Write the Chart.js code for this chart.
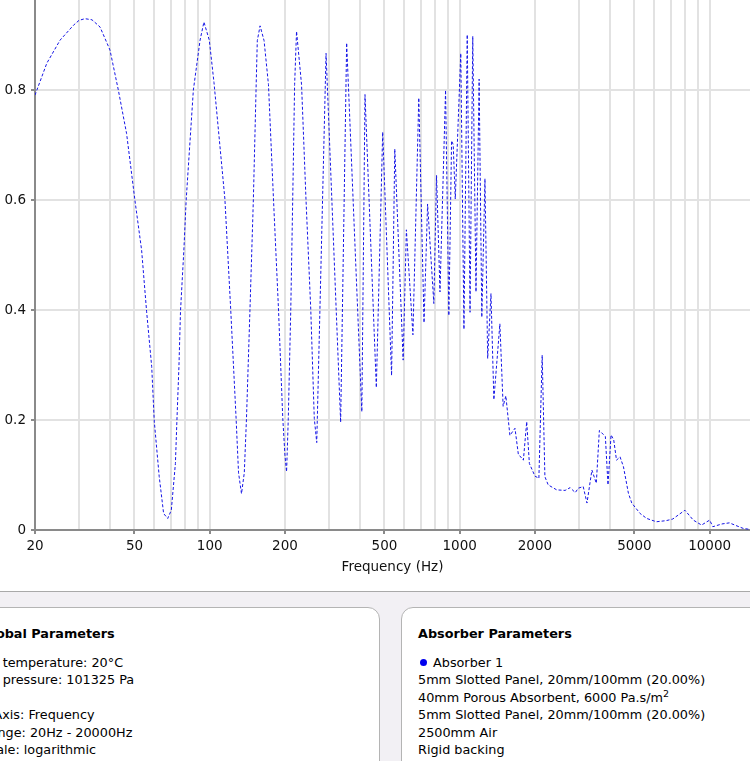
<!DOCTYPE html>
<html>
<head>
<meta charset="utf-8">
<script src="https://cdn.jsdelivr.net/npm/chart.js@4/dist/chart.umd.min.js"></script>
<style>
  html, body { margin: 0; padding: 0; background: #fff; overflow: hidden; }
  body { width: 750px; height: 761px; position: relative; font-family: "DejaVu Sans", Verdana, sans-serif; color: #000; }
  #chartBox { position: absolute; left: 0; top: 0; width: 750px; height: 591px; }
  #params { position: absolute; left: 0; top: 591px; width: 750px; height: 170px; background: #f2f0f4; border-top: 1px solid #a9a9a9; }
  .panel { position: absolute; top: 15px; width: 382px; height: 200px; background: #fff; border: 1px solid #b4b4b4; border-radius: 12px; padding: 17px 16px 0 16px; font-size: 12.8px; }
  .panel h3 { margin: 0 0 12px 0; font-size: 12.8px; line-height: 17px; font-weight: bold; }
  .panel .line { line-height: 17.4px; white-space: nowrap; }
  .dot { display: inline-block; width: 7px; height: 7px; border-radius: 50%; background: #0000ee; margin: 0 6px 1px 2px; }
</style>
</head>
<body>
<div id="chartBox"><canvas id="absorptionChart"></canvas></div>

<div id="params">
  <div class="panel" style="left:-36px">
    <h3>Global Parameters</h3>
    <div class="line">Air temperature: 20°C</div>
    <div class="line">Air pressure: 101325 Pa</div>
    <div class="line">&nbsp;</div>
    <div class="line">X-Axis: Frequency</div>
    <div class="line">Range: 20Hz - 20000Hz</div>
    <div class="line">Scale: logarithmic</div>
    <div class="line">Resolution: medium</div>
  </div>
  <div class="panel" style="left:401px">
    <h3>Absorber Parameters</h3>
    <div class="line"><span class="dot"></span>Absorber 1</div>
    <div class="line">5mm Slotted Panel, 20mm/100mm (20.00%)</div>
    <div class="line">40mm Porous Absorbent, 6000 Pa.s/m<sup style="font-size:9.5px;line-height:0">2</sup></div>
    <div class="line">5mm Slotted Panel, 20mm/100mm (20.00%)</div>
    <div class="line">2500mm Air</div>
    <div class="line">Rigid backing</div>
  </div>
</div>

<script>
// 주파수 (Hz)
const freqHz = [
    20, 22.3, 25.2, 28.5, 30.0, 31.7, 33.8, 36.4, 39.9, 43.1, 46.5, 50.2,
    53.4, 55.9, 58.6, 60.0, 62.8, 65.4, 67.9, 70.2, 72.9, 73.9,
    75.3, 76.4, 78.8, 80.5, 86.0, 91.5, 94.8, 99.6, 104, 115,
    121.3, 127.5, 130.4, 134, 137.5, 140.3, 144.9, 149.5, 153.4, 155,
    159, 165, 171.8, 179.9, 188.4, 196, 200, 203, 206.2, 211,
    214.8, 218.6, 222.5, 233, 242.7, 253.6, 262, 268, 292, 334,
    353, 406, 418, 464, 492, 534, 550, 594, 612, 650,
    686, 720, 744, 788, 808, 834, 878, 905, 928, 942,
    960, 1010, 1040, 1072, 1100, 1128, 1162, 1196, 1226, 1262,
    1294, 1334, 1370, 1448, 1492, 1530, 1588, 1664, 1716, 1798,
    1854, 1900, 2000, 2074, 2138, 2192, 2260, 2444, 2640, 2766,
    2900, 2980, 3120, 3230, 3380, 3520, 3620, 3826, 3920, 4032,
    4132, 4240, 4380, 4520, 4730, 4880, 5270, 5600, 6120, 6700,
    7120, 7960, 8600, 9280, 10000, 10300, 11200, 12000, 12600, 13600,
    14500
]

// 흡음률
const absorption = [
    0.791, 0.849, 0.891, 0.918, 0.927, 0.930, 0.928, 0.915, 0.873, 0.800, 0.721, 0.600,
    0.509, 0.398, 0.297, 0.198, 0.097, 0.030, 0.021, 0.036, 0.121, 0.198,
    0.297, 0.398, 0.509, 0.600, 0.800, 0.891, 0.924, 0.891, 0.814, 0.602,
    0.402, 0.203, 0.104, 0.066, 0.104, 0.203, 0.402, 0.602, 0.810, 0.890,
    0.917, 0.890, 0.810, 0.602, 0.402, 0.203, 0.135, 0.106, 0.203, 0.402,
    0.602, 0.810, 0.907, 0.810, 0.602, 0.402, 0.203, 0.159, 0.867, 0.196,
    0.886, 0.215, 0.792, 0.259, 0.724, 0.281, 0.693, 0.309, 0.546, 0.355,
    0.786, 0.377, 0.593, 0.412, 0.645, 0.433, 0.800, 0.390, 0.708, 0.701,
    0.602, 0.867, 0.365, 0.901, 0.396, 0.898, 0.433, 0.820, 0.387, 0.639,
    0.312, 0.430, 0.237, 0.375, 0.225, 0.244, 0.172, 0.185, 0.138, 0.127,
    0.197, 0.121, 0.098, 0.094, 0.318, 0.097, 0.082, 0.073, 0.072, 0.077,
    0.068, 0.076, 0.079, 0.049, 0.109, 0.085, 0.181, 0.170, 0.082, 0.173,
    0.164, 0.127, 0.133, 0.115, 0.067, 0.049, 0.030, 0.021, 0.015, 0.017,
    0.020, 0.036, 0.018, 0.009, 0.018, 0.006, 0.011, 0.013, 0.009, 0.003,
    0.001
]

// 눈금
const gridFreqs = [
    20, 30, 40, 50, 60, 70, 80, 90,
    100, 200, 300, 400, 500, 600, 700, 800, 900,
    1000, 2000, 3000, 4000, 5000, 6000, 7000, 8000, 9000,
    10000
]
const labelFreqs = [20, 50, 100, 200, 500, 1000, 2000, 5000, 10000]
const yTicks = [0, 0.2, 0.4, 0.6, 0.8]

const axisColor = '#8a8a8a'
const gridColor = '#e2e2e2'
const tickFont = { family: 'DejaVu Sans', size: 13.5 }

function buildPoints() {
    return freqHz.map((f, i) => ({ x: f, y: absorption[i] }))
}

function drawChart() {
    const context = document.getElementById('absorptionChart')
    const config = {
        type: 'line',
        data: {
            datasets: [{
                label: 'Absorber 1',
                data: buildPoints(),
                borderColor: '#1515e6',
                borderWidth: 1,
                borderDash: [3, 2],
                pointRadius: 0,
                tension: 0,
                fill: false
            }]
        },
        options: {
            responsive: true,
            maintainAspectRatio: false,
            animation: false,
            layout: { padding: 0 },
            plugins: {
                legend: { display: false },
                tooltip: { enabled: false }
            },
            scales: {
                x: {
                    type: 'logarithmic',
                    min: 20,
                    max: 14500,
                    afterBuildTicks: scale => { scale.ticks = gridFreqs.map(v => ({ value: v })) },
                    afterFit: scale => { scale.height = 61 },
                    ticks: {
                        autoSkip: false,
                        maxRotation: 0,
                        padding: 4,
                        color: '#111',
                        font: tickFont,
                        callback: value => labelFreqs.includes(value) ? String(value) : ''
                    },
                    grid: {
                        color: gridColor,
                        lineWidth: 2,
                        tickLength: 4,
                        tickColor: ctx => labelFreqs.includes(ctx.tick && ctx.tick.value) ? axisColor : 'rgba(0,0,0,0)'
                    },
                    border: { color: axisColor, width: 2 },
                    title: {
                        display: true,
                        text: 'Frequency (Hz)',
                        color: '#111',
                        font: tickFont,
                        padding: { top: 0, bottom: 15 }
                    }
                },
                y: {
                    min: 0,
                    max: 0.964,
                    afterBuildTicks: scale => { scale.ticks = yTicks.map(v => ({ value: v })) },
                    afterFit: scale => {
                        scale.width = 35
                        scale.paddingTop = 0 // 위쪽 여백 제거
                    },
                    ticks: {
                        padding: 5,
                        color: '#111',
                        font: tickFont,
                        callback: value => String(value)
                    },
                    grid: {
                        color: gridColor,
                        lineWidth: 2,
                        tickLength: 4,
                        tickColor: axisColor
                    },
                    border: { color: axisColor, width: 2 }
                }
            }
        }
    }
    new Chart(context, config)
}

drawChart()
</script>
</body>
</html>
